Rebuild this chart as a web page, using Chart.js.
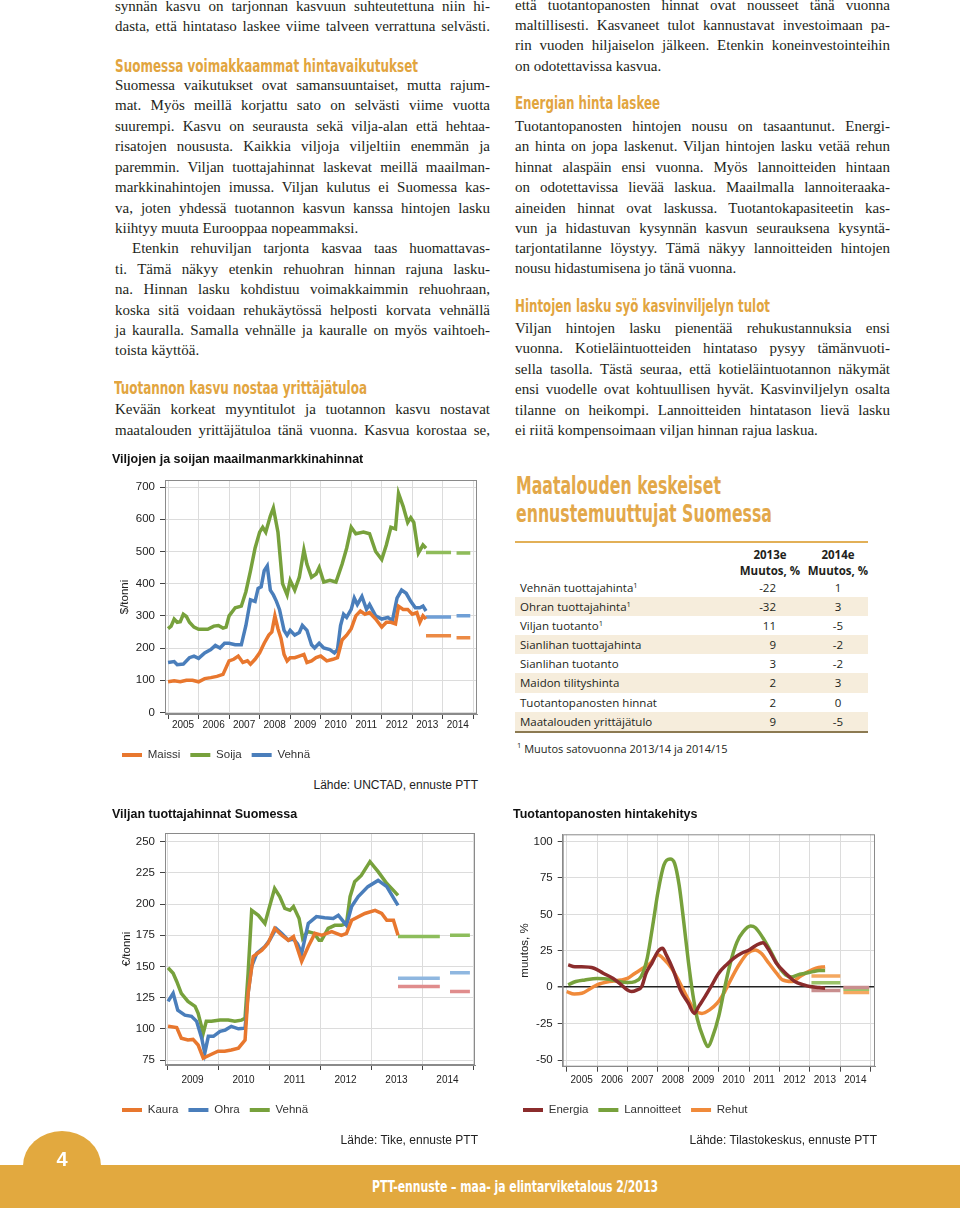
<!DOCTYPE html>
<html lang="fi">
<head>
<meta charset="utf-8">
<title>PTT-ennuste 2/2013</title>
<script src="https://cdn.jsdelivr.net/npm/chart.js@4.4.1/dist/chart.umd.min.js"></script>
<style>
  html, body { margin: 0; padding: 0; background: #fff; }
  body { width: 960px; height: 1208px; position: relative; overflow: hidden; }
  .rivi { position: absolute; white-space: nowrap; font-family: "Liberation Serif", "Times New Roman", serif; font-size: 15px; line-height: 20px; color: #231f20; }
  .vali { position: absolute; white-space: nowrap; font-family: "Liberation Sans Narrow", "DejaVu Sans Condensed", sans-serif; font-weight: bold; font-size: 18px; line-height: 22px; color: #e2a53f; transform-origin: left center; }
  .kaavio { position: absolute; }
  .lahde { position: absolute; white-space: nowrap; font-family: "Liberation Sans", Arial, sans-serif; font-size: 12px; color: #222; transform: translate(-100%, -50%); }
  #tauluOtsikko { position: absolute; left: 516px; top: 472px; white-space: nowrap; font-family: "Liberation Sans Narrow", "DejaVu Sans Condensed", sans-serif; font-weight: bold; font-size: 25px; line-height: 28px; color: #e3a84a; transform-origin: left top; }
  #taulu { position: absolute; left: 515px; top: 541px; width: 353px; font-family: "Open Sans", "Noto Sans", sans-serif; font-size: 11.5px; color: #231f20; border-top: 2px solid #e2b057; border-bottom: 2px solid #8c7a52; }
  #taulu .rivi2 { position: relative; height: 19.1px; line-height: 19.1px; }
  #taulu .rivi2.tumma { background: #f6eddc; }
  #taulu .nimi { position: absolute; left: 5px; }
  #taulu .a { position: absolute; right: 92px; }
  #taulu .b { position: absolute; left: 305px; width: 36px; text-align: center; }
  #taulu .paa { height: 35px; position: relative; font-weight: bold; line-height: 15.5px; }
  #taulu .paa div { position: absolute; top: 4px; width: 70px; text-align: center; }
  #taulu sup { font-size: 7.5px; vertical-align: 4px; line-height: 0; }
  #viite { position: absolute; left: 517px; top: 740px; font-family: "Open Sans", "Noto Sans", sans-serif; font-size: 11px; color: #231f20; }
  #viite sup { font-size: 7.5px; }
  #palkki { position: absolute; left: 0; top: 1165px; width: 960px; height: 43px; background: #e2a93f; }
  #kieleke { position: absolute; left: 23px; top: 1131px; width: 78px; height: 60px; background: #e2a93f; border-radius: 50% 50% 0 0 / 58% 58% 0 0; }
  #sivu { position: absolute; left: 23px; width: 78px; top: 1148px; text-align: center; font-family: "Liberation Sans", Arial, sans-serif; font-weight: bold; font-size: 20px; color: #fff; }
  #alateksti { position: absolute; left: 372px; top: 1176px; white-space: nowrap; font-family: "Liberation Sans Narrow", "DejaVu Sans Condensed", sans-serif; font-weight: bold; font-size: 16px; line-height: 22px; color: #fff; transform-origin: left center; }
</style>
</head>
<body>

<div class="kaavio" style="left:100px; top:448px;"><canvas id="maailma" width="395" height="330"></canvas></div>
<div class="lahde" style="left:478px; top:785px;">Lähde: UNCTAD, ennuste PTT</div>

<div class="kaavio" style="left:100px; top:800px;"><canvas id="tuottaja" width="395" height="335"></canvas></div>
<div class="lahde" style="left:478px; top:1140px;">Lähde: Tike, ennuste PTT</div>

<div class="kaavio" style="left:505px; top:800px;"><canvas id="panokset" width="385" height="335"></canvas></div>
<div class="lahde" style="left:877px; top:1140px;">Lähde: Tilastokeskus, ennuste PTT</div>

<div id="tauluOtsikko">Maatalouden keskeiset<br>ennustemuuttujat Suomessa</div>
<div id="taulu"></div>
<div id="viite"><sup>1</sup> Muutos satovuonna 2013/14 ja 2014/15</div>

<div id="kieleke"></div>
<div id="palkki"></div>
<div id="sivu">4</div>
<div id="alateksti">PTT-ennuste – maa- ja elintarviketalous 2/2013</div>

<script>
// --- Viljojen ja soijan maailmanmarkkinahinnat, $/tonni ---
const vuodet1 = [2005, 2006, 2007, 2008, 2009, 2010, 2011, 2012, 2013, 2014, 2015];
const yTicks1 = [0, 100, 200, 300, 400, 500, 600, 700];
const maissi = [[2005.0,95],[2005.2,98],[2005.4,95],[2005.6,100],[2005.8,100],[2006.0,95],[2006.2,105],[2006.4,108],[2006.6,112],[2006.8,118],[2007.0,160],[2007.15,165],[2007.3,175],[2007.45,155],[2007.6,160],[2007.7,150],[2007.85,165],[2008.0,185],[2008.15,215],[2008.3,240],[2008.4,250],[2008.5,300],[2008.6,260],[2008.7,230],[2008.8,180],[2008.9,160],[2009.0,170],[2009.15,170],[2009.3,175],[2009.45,180],[2009.55,155],[2009.7,160],[2009.85,170],[2010.0,175],[2010.2,160],[2010.4,165],[2010.55,170],[2010.7,225],[2010.85,240],[2011.0,260],[2011.15,300],[2011.3,315],[2011.45,305],[2011.6,310],[2011.8,290],[2012.0,265],[2012.15,280],[2012.3,280],[2012.45,275],[2012.55,330],[2012.7,320],[2012.85,320],[2013.0,305],[2013.15,310],[2013.25,280],[2013.35,300],[2013.45,290]];
const soija = [[2005.0,260],[2005.1,268],[2005.2,290],[2005.3,280],[2005.4,282],[2005.5,305],[2005.6,298],[2005.7,280],[2005.85,265],[2006.0,258],[2006.3,258],[2006.5,268],[2006.65,270],[2006.8,262],[2006.9,265],[2007.0,300],[2007.2,325],[2007.4,330],[2007.55,375],[2007.7,440],[2007.85,510],[2008.0,560],[2008.1,575],[2008.2,560],[2008.35,610],[2008.45,635],[2008.6,560],[2008.75,400],[2008.9,365],[2009.0,410],[2009.15,380],[2009.3,420],[2009.45,505],[2009.55,460],[2009.7,420],[2009.85,430],[2009.95,450],[2010.1,405],[2010.3,410],[2010.5,405],[2010.7,460],[2010.85,510],[2011.0,575],[2011.15,555],[2011.4,560],[2011.6,555],[2011.8,500],[2012.0,475],[2012.15,520],[2012.3,575],[2012.45,570],[2012.55,680],[2012.7,640],[2012.85,590],[2012.95,605],[2013.05,590],[2013.2,495],[2013.35,520],[2013.45,510]];
const vehna1 = [[2005.0,155],[2005.2,158],[2005.3,148],[2005.5,150],[2005.7,170],[2005.85,175],[2006.0,168],[2006.2,185],[2006.4,195],[2006.55,208],[2006.7,200],[2006.85,215],[2007.0,215],[2007.2,210],[2007.4,210],[2007.55,270],[2007.7,350],[2007.85,345],[2007.95,385],[2008.05,390],[2008.15,440],[2008.25,455],[2008.35,380],[2008.45,365],[2008.55,345],[2008.65,320],[2008.8,255],[2008.9,240],[2009.0,255],[2009.15,240],[2009.3,248],[2009.4,270],[2009.55,255],[2009.7,210],[2009.8,200],[2009.95,215],[2010.1,200],[2010.3,195],[2010.45,185],[2010.55,195],[2010.65,270],[2010.75,305],[2010.85,295],[2011.0,320],[2011.1,355],[2011.2,335],[2011.35,360],[2011.5,320],[2011.6,335],[2011.8,300],[2012.0,290],[2012.2,295],[2012.35,285],[2012.5,355],[2012.65,380],[2012.8,370],[2012.95,345],[2013.1,325],[2013.25,325],[2013.35,330],[2013.45,315]];
const maissiEnn = [[2013.45,238],[2014.27,238],[2014.35,null],[2014.45,232],[2014.9,232]];
const soijaEnn = [[2013.45,497],[2014.27,497],[2014.35,null],[2014.45,495],[2014.9,495]];
const vehna1Enn = [[2013.45,296],[2014.27,296],[2014.35,null],[2014.45,300],[2014.9,300]];

// --- Viljan tuottajahinnat Suomessa, €/tonni ---
const vuodet2 = [2009, 2010, 2011, 2012, 2013, 2014, 2015];
const yTicks2 = [75, 100, 125, 150, 175, 200, 225, 250];
const kaura = [[2009.01,102],[2009.18,101],[2009.27,92.5],[2009.4,91],[2009.5,91.5],[2009.6,87],[2009.7,76.5],[2009.83,79],[2009.99,82],[2010.12,82],[2010.25,83],[2010.39,84.5],[2010.52,91],[2010.58,128.5],[2010.68,158],[2010.85,163],[2010.97,168.5],[2011.1,180.5],[2011.24,175],[2011.37,171],[2011.47,174],[2011.63,154],[2011.76,166],[2011.89,176.5],[2012.02,175],[2012.22,178],[2012.41,175],[2012.51,176.5],[2012.61,187],[2012.87,192.5],[2013.07,195],[2013.2,192.5],[2013.3,187],[2013.43,187],[2013.52,175]];
const ohra = [[2009.01,122],[2009.11,128.5],[2009.2,115],[2009.34,111],[2009.47,110],[2009.57,106],[2009.67,92.5],[2009.73,80.5],[2009.8,94],[2009.9,94],[2010.03,98],[2010.13,99],[2010.25,102],[2010.39,100],[2010.52,100.5],[2010.58,128.5],[2010.65,150],[2010.75,160.5],[2010.91,166],[2011.0,171],[2011.13,180.5],[2011.24,176.5],[2011.37,171],[2011.47,172],[2011.55,168],[2011.63,160.5],[2011.76,184.5],[2011.92,190],[2012.08,189],[2012.25,188.5],[2012.35,191],[2012.51,183],[2012.61,198],[2012.74,206],[2012.93,214],[2013.13,219],[2013.3,214],[2013.46,203],[2013.52,199]];
const vehna2 = [[2009.01,149],[2009.11,144.5],[2009.18,138],[2009.27,128.5],[2009.4,122],[2009.54,118],[2009.6,112.5],[2009.7,96.5],[2009.76,106],[2009.86,106],[2010.03,107],[2010.19,107],[2010.32,106],[2010.45,107],[2010.52,108.5],[2010.58,144.5],[2010.65,195],[2010.78,191],[2010.91,184.5],[2011.0,198],[2011.1,212.5],[2011.2,206],[2011.3,196.5],[2011.4,195],[2011.47,198],[2011.58,188.5],[2011.65,172.5],[2011.75,178],[2011.88,176.5],[2011.97,171],[2012.02,171],[2012.15,180.5],[2012.28,183],[2012.41,183],[2012.51,184.5],[2012.58,206],[2012.67,218],[2012.8,223],[2012.97,234],[2013.13,226],[2013.3,216.5],[2013.43,211],[2013.52,207]];
const kauraEnn = [[2013.52,134],[2014.34,134],[2014.45,null],[2014.54,130],[2014.93,130]];
const ohraEnn = [[2013.52,140.5],[2014.34,140.5],[2014.45,null],[2014.54,145],[2014.93,145]];
const vehna2Enn = [[2013.52,174],[2014.34,174],[2014.45,null],[2014.54,175],[2014.93,175]];

// --- Tuotantopanosten hintakehitys, muutos % ---
const vuodet3 = [2005, 2006, 2007, 2008, 2009, 2010, 2011, 2012, 2013, 2014, 2015];
const yTicks3 = [-50, -25, 0, 25, 50, 75, 100];
const energia = [[2005.05,15.3],[2005.27,14],[2005.49,14],[2005.9,13],[2006.2,9.6],[2006.53,6],[2006.8,1.6],[2007.0,-2],[2007.13,-3],[2007.3,-2],[2007.47,0.5],[2007.61,9.6],[2007.8,16.4],[2008.0,24.5],[2008.15,26.7],[2008.28,22],[2008.5,12],[2008.74,-2],[2009.0,-11],[2009.2,-18],[2009.35,-13],[2009.55,-6.5],[2009.75,0.5],[2010.0,9.6],[2010.25,15.3],[2010.5,20],[2010.75,23.3],[2011.0,25.6],[2011.25,29],[2011.45,30.6],[2011.65,25.6],[2011.9,16.4],[2012.2,9.6],[2012.5,3.9],[2012.8,1.6],[2013.0,0.5],[2013.3,-0.2],[2013.5,-0.7]];
const lannoitteet = [[2005.05,1.6],[2005.3,3.9],[2005.6,5],[2006.0,6],[2006.4,5.5],[2006.7,3.9],[2007.0,3.2],[2007.25,3.9],[2007.45,7.3],[2007.65,20],[2007.85,45],[2008.0,65],[2008.2,84],[2008.4,88],[2008.55,85],[2008.7,70],[2008.85,45],[2009.0,18],[2009.15,-5],[2009.3,-22],[2009.5,-35],[2009.65,-40.8],[2009.8,-34],[2010.0,-20],[2010.2,0],[2010.4,18],[2010.6,31],[2010.8,38],[2011.05,42],[2011.2,41],[2011.45,34],[2011.7,25],[2011.95,15],[2012.2,8.5],[2012.4,7],[2012.6,8.5],[2012.85,9.6],[2013.1,10.7],[2013.3,11.4],[2013.5,11.4]];
const rehut = [[2005.0,-3],[2005.25,-4.6],[2005.5,-4.2],[2005.8,-0.7],[2006.0,1.6],[2006.4,3.9],[2006.8,5],[2007.0,6],[2007.25,9.6],[2007.5,13],[2007.75,16.4],[2008.0,22.2],[2008.2,19.2],[2008.45,13],[2008.7,3.9],[2008.95,-6.5],[2009.2,-15.6],[2009.45,-18],[2009.7,-15.6],[2009.95,-11],[2010.2,-3],[2010.45,7.3],[2010.7,16.4],[2010.95,23.3],[2011.2,25.6],[2011.4,23.3],[2011.65,16.4],[2011.9,9.6],[2012.1,5],[2012.4,3.9],[2012.7,7.7],[2012.95,10.7],[2013.2,13],[2013.5,14.1]];
const energiaEnn = [[2013.05,-2.3],[2014.0,-2.3],[2014.05,null],[2014.1,-0.2],[2014.95,-0.2]];
const lannoitteetEnn = [[2013.05,3],[2014.0,3],[2014.05,null],[2014.1,-1.4],[2014.95,-1.4]];
const rehutEnn = [[2013.05,7.7],[2014.0,7.7],[2014.05,null],[2014.1,-3.7],[2014.95,-3.7]];

// --- Taulukko ---
const muuttujat = ['Vehnän tuottajahinta', 'Ohran tuottajahinta', 'Viljan tuotanto', 'Sianlihan tuottajahinta', 'Sianlihan tuotanto', 'Maidon tilityshinta', 'Tuotantopanosten hinnat', 'Maatalouden yrittäjätulo'];
const alaviite = [1, 1, 1, 0, 0, 0, 0, 0];
const muutos2013 = [-22, -32, 11, 9, 3, 2, 2, 9];
const muutos2014 = [1, 3, -5, -2, -2, 3, 0, -5];

// --- Leipäteksti: [rivi, keskikohta y, tasataanko, sisennys] ---
const vasenRivit = [
  ['synnän kasvu on tarjonnan kasvuun suhteutettuna niin hi-', 8, 1],
  ['dasta, että hintataso laskee viime talveen verrattuna selvästi.', 28, 1],
  ['Suomessa vaikutukset ovat samansuuntaiset, mutta rajum-', 87, 1],
  ['mat. Myös meillä korjattu sato on selvästi viime vuotta', 107, 1],
  ['suurempi. Kasvu on seurausta sekä vilja-alan että hehtaa-', 128, 1],
  ['risatojen noususta. Kaikkia viljoja viljeltiin enemmän ja', 148, 1],
  ['paremmin. Viljan tuottajahinnat laskevat meillä maailman-', 169, 1],
  ['markkinahintojen imussa. Viljan kulutus ei Suomessa kas-', 189, 1],
  ['va, joten yhdessä tuotannon kasvun kanssa hintojen lasku', 210, 1],
  ['kiihtyy muuta Eurooppaa nopeammaksi.', 230, 0],
  ['Etenkin rehuviljan tarjonta kasvaa taas huomattavas-', 250, 1, 17],
  ['ti. Tämä näkyy etenkin rehuohran hinnan rajuna lasku-', 271, 1],
  ['na. Hinnan lasku kohdistuu voimakkaimmin rehuohraan,', 291, 1],
  ['koska sitä voidaan rehukäytössä helposti korvata vehnällä', 312, 1],
  ['ja kauralla. Samalla vehnälle ja kauralle on myös vaihtoeh-', 332, 1],
  ['toista käyttöä.', 352, 0],
  ['Kevään korkeat myyntitulot ja tuotannon kasvu nostavat', 411, 1],
  ['maatalouden yrittäjätuloa tänä vuonna. Kasvua korostaa se,', 432, 1]
];
const oikeaRivit = [
  ['että tuotantopanosten hinnat ovat nousseet tänä vuonna', 7, 1],
  ['maltillisesti. Kasvaneet tulot kannustavat investoimaan pa-', 27, 1],
  ['rin vuoden hiljaiselon jälkeen. Etenkin koneinvestointeihin', 47, 1],
  ['on odotettavissa kasvua.', 68, 0],
  ['Tuotantopanosten hintojen nousu on tasaantunut. Energi-', 128, 1],
  ['an hinta on jopa laskenut. Viljan hintojen lasku vetää rehun', 148, 1],
  ['hinnat alaspäin ensi vuonna. Myös lannoitteiden hintaan', 169, 1],
  ['on odotettavissa lievää laskua. Maailmalla lannoiteraaka-', 189, 1],
  ['aineiden hinnat ovat laskussa. Tuotantokapasiteetin kas-', 210, 1],
  ['vun ja hidastuvan kysynnän kasvun seurauksena kysyntä-', 230, 1],
  ['tarjontatilanne löystyy. Tämä näkyy lannoitteiden hintojen', 250, 1],
  ['nousu hidastumisena jo tänä vuonna.', 270, 0],
  ['Viljan hintojen lasku pienentää rehukustannuksia ensi', 330, 1],
  ['vuonna. Kotieläintuotteiden hintataso pysyy tämänvuoti-', 350, 1],
  ['sella tasolla. Tästä seuraa, että kotieläintuotannon näkymät', 371, 1],
  ['ensi vuodelle ovat kohtuullisen hyvät.  Kasvinviljelyn osalta', 391, 1],
  ['tilanne on heikompi. Lannoitteiden hintatason lievä lasku', 412, 1],
  ['ei riitä kompensoimaan viljan hinnan rajua laskua.', 432, 0]
];
// [otsikko, x, keskikohta y, leveys]
const valiotsikot = [
  ['Suomessa voimakkaammat hintavaikutukset', 115, 67, 303],
  ['Tuotannon kasvu nostaa yrittäjätuloa', 114, 389, 253],
  ['Energian hinta laskee', 515, 104, 145],
  ['Hintojen lasku syö kasvinviljelyn tulot', 515, 307, 255]
];

const PALSTA = 375;

// kavennetaan leveäksi jäänyt fontti painetun leveyteen
function kavenna(el, leveys) {
  const w = el.getBoundingClientRect().width;
  el.style.transform = `scaleX(${leveys / w})`;
}

function piirraRivit(rivit, x) {
  rivit.forEach(([teksti, y, tasaa, sisennys]) => {
    const el = document.createElement('div');
    el.className = 'rivi';
    el.textContent = teksti;
    el.style.left = x + 'px';
    el.style.top = (y - 12) + 'px';
    if (sisennys) el.style.paddingLeft = sisennys + 'px';
    document.body.appendChild(el);
    if (tasaa) {
      const w = el.getBoundingClientRect().width;
      const valit = (teksti.trim().match(/ +/g) || []).length;
      if (valit) el.style.wordSpacing = ((PALSTA - w) / valit) + 'px';
    }
  });
}

piirraRivit(vasenRivit, 115);
piirraRivit(oikeaRivit, 515);
valiotsikot.forEach(([teksti, x, y, leveys]) => {
  const el = document.createElement('div');
  el.className = 'vali';
  el.textContent = teksti;
  el.style.left = x + 'px';
  el.style.top = (y - 12) + 'px';
  document.body.appendChild(el);
  kavenna(el, leveys);
});
kavenna(document.getElementById('tauluOtsikko'), 256);
kavenna(document.getElementById('alateksti'), 286);

// taulukko
const taulu = document.getElementById('taulu');
taulu.innerHTML = `
  <div class="paa">
    <div style="left:220px">2013e<br>Muutos, %</div>
    <div style="left:288px">2014e<br>Muutos, %</div>
  </div>` +
  muuttujat.map((nimi, i) => `
  <div class="rivi2${i % 2 ? ' tumma' : ''}">
    <span class="nimi">${nimi}${alaviite[i] ? '<sup>1</sup>' : ''}</span>
    <span class="a">${muutos2013[i]}</span>
    <span class="b">${muutos2014[i]}</span>
  </div>`).join('');

// kuvaajat
Chart.defaults.font.family = '"Liberation Sans", Arial, sans-serif';
Chart.defaults.color = '#222';

// R-tyylinen kehys piirtoalueen ympärille
const kehys = {
  id: 'kehys',
  beforeDatasetsDraw(chart) {
    const { ctx, chartArea: a } = chart;
    ctx.save();
    ctx.strokeStyle = '#8a8a8a';
    ctx.lineWidth = 1;
    ctx.strokeRect(a.left + 0.5, a.top + 0.5, a.right - a.left - 1, a.bottom - a.top - 1);
    ctx.restore();
  }
};

function sarja(nimi, pisteet, vari, pehmea) {
  return {
    label: nimi,
    data: pisteet.map(([x, y]) => ({ x, y })),
    borderColor: vari,
    backgroundColor: vari,
    borderWidth: 3.5,
    pointRadius: 0,
    tension: pehmea ? 0.4 : 0,
    cubicInterpolationMode: pehmea ? 'monotone' : 'default'
  };
}

function teeKaavio(id, o) {
  return new Chart(document.getElementById(id), {
    type: 'line',
    data: { datasets: o.sarjat },
    options: {
      responsive: false,
      animation: false,
      devicePixelRatio: 1,
      layout: { padding: o.padding },
      plugins: {
        title: {
          display: true, text: o.otsikko, align: 'start', color: '#111',
          font: { size: 12.5, weight: 'bold' }, padding: o.otsikkoPad
        },
        legend: {
          position: 'bottom', align: 'start',
          labels: {
            boxWidth: 20, boxHeight: 4, padding: 10, color: '#333', font: { size: 11.5 },
            generateLabels: chart => Chart.defaults.plugins.legend.labels.generateLabels(chart)
              .filter(l => chart.data.datasets[l.datasetIndex].label)
              .map(l => Object.assign(l, { lineWidth: 0 }))
          }
        },
        tooltip: { enabled: false }
      },
      scales: {
        x: {
          type: 'linear', min: o.xMin, max: o.xMax,
          afterBuildTicks: s => { s.ticks = o.vuodet.map(v => ({ value: v })); },
          afterFit: s => { s.height = o.xKorkeus; },
          ticks: {
            autoSkip: false, maxRotation: 0, minRotation: 0, padding: o.xPad,
            labelOffset: o.labelOffset, color: '#222', font: { size: 10 },
            callback: v => (v < o.vuodet[o.vuodet.length - 1] ? String(v) : '')
          },
          grid: { color: '#dcdcdc', tickColor: '#444', tickLength: 5 },
          border: { color: '#8a8a8a' }
        },
        y: {
          min: o.yMin, max: o.yMax,
          afterBuildTicks: s => { s.ticks = o.yTicks.map(v => ({ value: v })); },
          afterFit: s => { s.width = o.yLeveys; },
          ticks: { padding: 5, color: '#222', font: { size: 11.5 }, callback: v => String(v) },
          grid: {
            color: c => (o.nollaviiva && c.tick && c.tick.value === 0 ? '#222' : '#dcdcdc'),
            lineWidth: c => (o.nollaviiva && c.tick && c.tick.value === 0 ? 1.5 : 1),
            tickColor: '#444', tickLength: 5
          },
          border: { color: '#8a8a8a' },
          title: { display: true, text: o.yOtsikko, color: '#222', font: { size: 11.5 }, padding: { top: o.yOtsikkoPad, bottom: 0 } }
        }
      }
    },
    plugins: [kehys]
  });
}

teeKaavio('maailma', {
  otsikko: 'Viljojen ja soijan maailmanmarkkinahinnat',
  yOtsikko: '$/tonni',
  vuodet: vuodet1, yTicks: yTicks1,
  xMin: 2004.9, xMax: 2015.12, yMin: -5, yMax: 722,
  padding: { left: 12, right: 18, top: 0, bottom: 7.25 },
  otsikkoPad: { top: 4, bottom: 13 },
  xKorkeus: 25.25, xPad: 0, labelOffset: 15, yLeveys: 53, yOtsikkoPad: 6,
  sarjat: [
    sarja('Maissi', maissi, '#e8772e'),
    sarja('Soija', soija, '#77a13c'),
    sarja('Vehnä', vehna1, '#4a7ebb'),
    sarja('', maissiEnn, '#ec8a45'),
    sarja('', soijaEnn, '#8fbc5a'),
    sarja('', vehna1Enn, '#6f9fd6')
  ]
});

teeKaavio('tuottaja', {
  otsikko: 'Viljan tuottajahinnat Suomessa',
  yOtsikko: '€/tonni',
  vuodet: vuodet2, yTicks: yTicks2,
  xMin: 2008.95, xMax: 2015.03, yMin: 71, yMax: 257,
  padding: { left: 12, right: 20, top: 0, bottom: 9.25 },
  otsikkoPad: { top: 7, bottom: 11 },
  xKorkeus: 29.25, xPad: 4, labelOffset: 25, yLeveys: 53, yOtsikkoPad: 8,
  sarjat: [
    sarja('Kaura', kaura, '#e8772e'),
    sarja('Ohra', ohra, '#4a7ebb'),
    sarja('Vehnä', vehna2, '#77a13c'),
    sarja('', kauraEnn, '#e08c8c'),
    sarja('', ohraEnn, '#8fb7e0'),
    sarja('', vehna2Enn, '#8dbd5c')
  ]
});

teeKaavio('panokset', {
  otsikko: 'Tuotantopanosten hintakehitys',
  yOtsikko: 'muutos, %',
  vuodet: vuodet3, yTicks: yTicks3,
  xMin: 2004.87, xMax: 2015.14, yMin: -54.6, yMax: 105,
  padding: { left: 8, right: 15, top: 0, bottom: 9.25 },
  otsikkoPad: { top: 7, bottom: 12.3 },
  xKorkeus: 27.55, xPad: 3, labelOffset: 15, yLeveys: 49.7, yOtsikkoPad: 5.4,
  nollaviiva: true,
  sarjat: [
    sarja('Energia', energia, '#8b2c2c', true),
    sarja('Lannoitteet', lannoitteet, '#77a13c', true),
    sarja('Rehut', rehut, '#f08a3a', true),
    sarja('', energiaEnn, '#c98e8e'),
    sarja('', lannoitteetEnn, '#9cc46a'),
    sarja('', rehutEnn, '#f4a860')
  ]
});
</script>
</body>
</html>
